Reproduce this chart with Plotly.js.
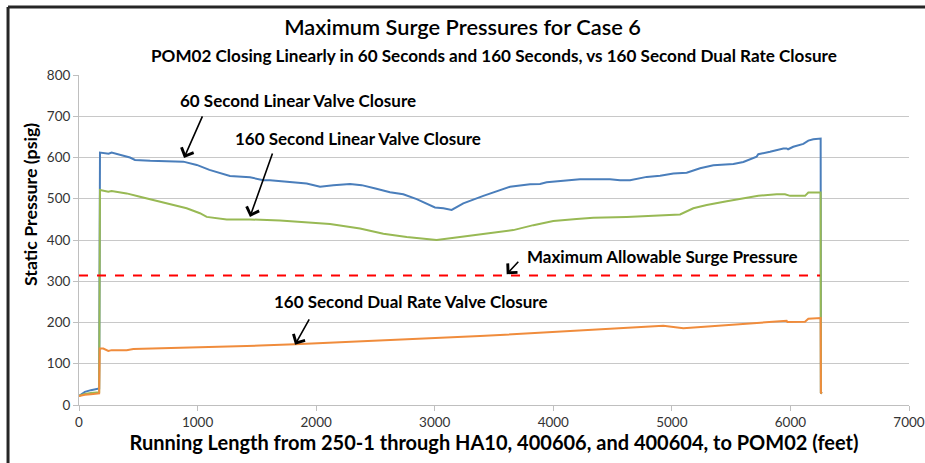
<!DOCTYPE html>
<html>
<head>
<meta charset="utf-8">
<script src="https://cdn.plot.ly/plotly-3.0.1.min.js"></script>
<style>html,body{margin:0;padding:0;background:#fff;}#chart{width:925px;height:463px;}</style>
</head>
<body>
<div id="chart"></div>
<script>
// Series: 60 second linear valve closure
const x60 = [0, 50, 100, 170, 177, 250, 275, 304, 430, 472, 600, 880, 993, 1100, 1273, 1442, 1555, 1611, 1780, 1920, 2033, 2145, 2286, 2384, 2500, 2623, 2735, 2848, 3002, 3073, 3143, 3241, 3410, 3635, 3804, 3888, 3944, 4113, 4225, 4338, 4478, 4563, 4647, 4788, 4901, 5013, 5125, 5238, 5350, 5519, 5603, 5715, 5729, 5828, 5940, 5968, 5980, 6024, 6109, 6151, 6193, 6255, 6257, 6265];
const y60 = [22, 32, 36, 40, 612, 609, 612, 610, 600, 594, 592, 590, 582, 570, 555, 552, 545, 545, 541, 537, 529, 533, 536, 533, 525, 516, 511, 499, 479, 477, 473, 489, 507, 529, 535, 536, 540, 545, 547, 547, 547, 545, 545, 553, 556, 561, 563, 574, 581, 584, 589, 602, 608, 614, 622, 622, 620, 626, 633, 641, 644, 646, 30, 28];

// Series: 160 second linear valve closure
const x160 = [0, 50, 100, 170, 177, 247, 275, 402, 514, 683, 852, 908, 1020, 1077, 1246, 1442, 1695, 1920, 2117, 2370, 2567, 2764, 3016, 3213, 3466, 3663, 3832, 4000, 4197, 4338, 4619, 4844, 5013, 5069, 5181, 5294, 5463, 5631, 5729, 5884, 5954, 5997, 6123, 6151, 6255, 6257, 6265];
const y160 = [22, 27, 29, 31, 521, 517, 519, 513, 505, 493, 482, 477, 465, 456, 450, 450, 447, 443, 439, 428, 415, 407, 400, 407, 416, 424, 436, 446, 451, 454, 456, 459, 461, 462, 477, 485, 494, 502, 507, 511, 511, 507, 507, 515, 515, 30, 28];

// Series: 160 second dual rate valve closure
const xDual = [0, 50, 100, 170, 175, 205, 247, 275, 402, 458, 1527, 1822, 3382, 4928, 5097, 5715, 5729, 5968, 5975, 6123, 6151, 6255, 6257, 6265];
const yDual = [22, 25, 26, 28, 137, 137, 131, 133, 133, 136, 144, 147, 167, 192, 186, 198, 200, 204, 201, 202, 209, 211, 30, 28];

// Maximum allowable surge pressure
const xLimit = [0, 6250];
const yLimit = [314, 314];

const xTickVals = [0, 1000, 2000, 3000, 4000, 5000, 6000, 7000];
const yTickVals = [0, 100, 200, 300, 400, 500, 600, 700, 800];

const titleText = "Maximum Surge Pressures for Case 6";
const subtitleText = "POM02 Closing Linearly in 60 Seconds and 160 Seconds, vs 160 Second Dual Rate Closure";
const xTitleText = "Running Length from 250-1 through HA10, 400606, and 400604, to POM02 (feet)";
const yTitleText = "Static Pressure (psig)";

const labels = [
  {text: "60 Second Linear Valve Closure", x: 1847, y: 737, tipX: 886, tipY: 599, ax: 19, ay: -43},
  {text: "160 Second Linear Valve Closure", x: 2353, y: 647, tipX: 1442, tipY: 456, ax: 23, ay: -65},
  {text: "Maximum Allowable Surge Pressure", x: 4925, y: 359, tipX: 3607, tipY: 317, ax: 13, ay: -14},
  {text: "160 Second Dual Rate Valve Closure", x: 2800, y: 250, tipX: 1822, tipY: 146, ax: 15, ay: -27}
];

const FONT = "Lato, 'Open Sans', sans-serif";

const traces = [
  {x: x60, y: y60, mode: 'lines', name: '60 Second Linear Valve Closure', line: {color: '#4A7EBB', width: 2}},
  {x: x160, y: y160, mode: 'lines', name: '160 Second Linear Valve Closure', line: {color: '#98B954', width: 2}},
  {x: xDual, y: yDual, mode: 'lines', name: '160 Second Dual Rate Valve Closure', line: {color: '#F08C3C', width: 2}},
  {x: xLimit, y: yLimit, mode: 'lines', name: 'Maximum Allowable Surge Pressure', line: {color: '#FF0000', width: 2, dash: 'dash'}}
];

const annotations = [];
labels.forEach(l => {
  annotations.push({x: l.x, y: l.y, xref: 'x', yref: 'y', text: '<b>' + l.text + '</b>', showarrow: false,
    font: {family: FONT, size: 17, color: '#000'}, xanchor: 'center', yanchor: 'middle'});
  annotations.push({x: l.tipX, y: l.tipY, xref: 'x', yref: 'y', text: '', showarrow: true,
    ax: l.ax, ay: l.ay, arrowhead: 4, arrowsize: 1.6, arrowwidth: 1.6, arrowcolor: '#000'});
});
annotations.push({x: 0.5, y: 1.058, xref: 'paper', yref: 'paper', text: '<b>' + subtitleText + '</b>', showarrow: false,
  font: {family: FONT, size: 17.1, color: '#000'}, xanchor: 'center', yanchor: 'middle'});
annotations.push({x: -0.059, y: 0.606, xref: 'paper', yref: 'paper', text: '<b>' + yTitleText + '</b>', showarrow: false,
  textangle: -90, font: {family: FONT, size: 17.8, color: '#000'}, xanchor: 'center', yanchor: 'middle'});

const layout = {
  width: 925, height: 463,
  margin: {l: 79, r: 16, t: 75, b: 58},
  paper_bgcolor: '#fff', plot_bgcolor: '#fff',
  showlegend: false,
  title: {text: titleText, font: {family: FONT, size: 21.8, color: '#000', weight: 600}, x: 0.5, xanchor: 'center', y: 0.94, yanchor: 'middle'},
  xaxis: {
    range: [0, 7000], tickvals: xTickVals, ticktext: xTickVals.map(String),
    showgrid: false, zeroline: false, showline: true, linecolor: '#BFBFBF', linewidth: 1,
    ticks: 'outside', ticklen: 5, tickcolor: '#BFBFBF',
    tickfont: {family: FONT, size: 13.5, color: '#333333'},
    title: {text: '<b>' + xTitleText + '</b>', font: {family: FONT, size: 20, color: '#000'}, standoff: 5}
  },
  yaxis: {
    range: [0, 800], tickvals: yTickVals, ticktext: yTickVals.map(String),
    showgrid: true, gridcolor: '#C8C8C8', gridwidth: 1, zeroline: false,
    showline: true, linecolor: '#BFBFBF', linewidth: 1,
    ticks: 'outside', ticklen: 5, tickcolor: '#BFBFBF',
    tickfont: {family: FONT, size: 13.5, color: '#333333'}
  },
  annotations: annotations,
  shapes: [
    {type: 'line', xref: 'paper', yref: 'paper', x0: -0.0855, x1: 1.1, y0: 1.206, y1: 1.206, line: {color: '#262626', width: 3}},
    {type: 'line', xref: 'paper', yref: 'paper', x0: -0.0855, x1: -0.0855, y0: 1.206, y1: -0.3, line: {color: '#262626', width: 3}}
  ]
};

Plotly.newPlot('chart', traces, layout, {displayModeBar: false, staticPlot: true});
</script>
</body>
</html>
